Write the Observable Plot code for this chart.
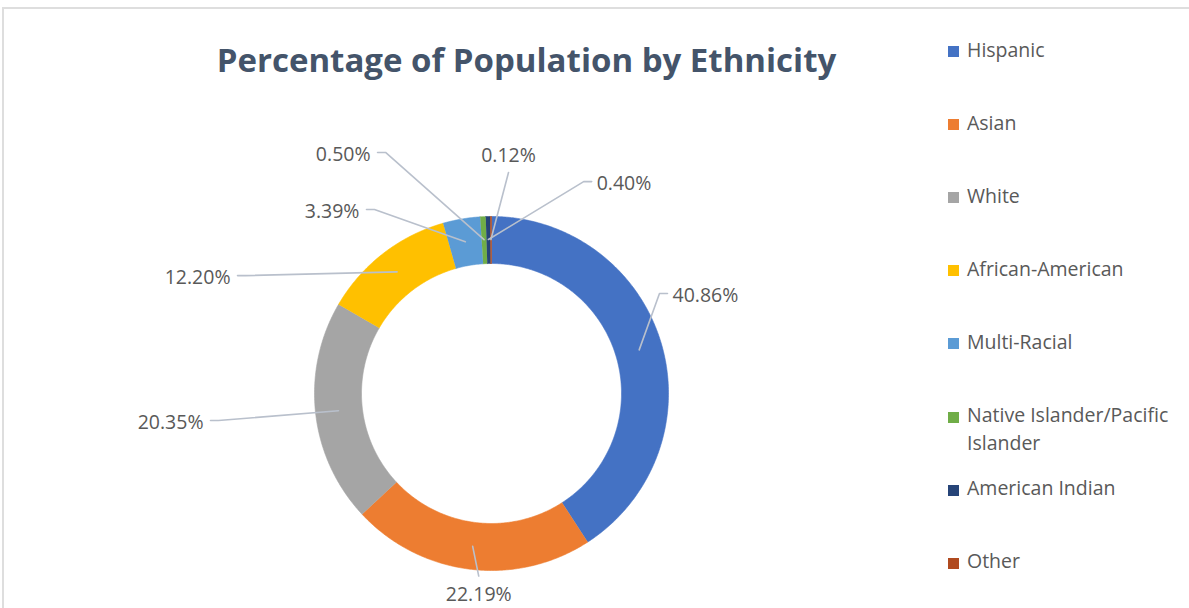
<!DOCTYPE html>
<html>
<head>
<meta charset="utf-8">
<script src="https://cdn.jsdelivr.net/npm/d3@7"></script>
<script src="https://cdn.jsdelivr.net/npm/@observablehq/plot@0.6"></script>
<style>
  body { margin: 0; background: #fff; font-family: "Open Sans", sans-serif; }
  #wrap { position: relative; width: 1189px; height: 608px; overflow: hidden; background: #fff; }
  #frame { position: absolute; left: 2px; top: 7px; width: 1300px; height: 700px;
           border-top: 2px solid #DEDEDE; border-left: 2px solid #DEDEDE; }
  #chart { position: absolute; left: 0; top: 0; }
  #title { position: absolute; left: 0; width: 1053px; top: 43px; text-align: center;
           font-family: "Open Sans", sans-serif; font-weight: 700; font-size: 33px;
           line-height: 33px; color: #44546A; white-space: nowrap; }
  .lg-sw { position: absolute; left: 948px; width: 11px; height: 11px; }
  .lg-tx { position: absolute; left: 967px; width: 215px; font-family: "Open Sans", sans-serif;
           font-size: 19.5px; line-height: 28px; color: #595959; }
</style>
</head>
<body>
<div id="wrap">
  <div id="frame"></div>
  <div id="chart"></div>
  <div id="title">Percentage of Population by Ethnicity</div>
  <div id="legend"></div>
</div>
<script>
// ---------- data ----------
const categories = ["Hispanic", "Asian", "White", "African-American", "Multi-Racial",
                    "Native Islander/Pacific Islander", "American Indian", "Other"];
const percentages = [40.86, 22.19, 20.35, 12.20, 3.39, 0.50, 0.40, 0.12];
const colors = ["#4472C4", "#ED7D31", "#A5A5A5", "#FFC000", "#5B9BD5", "#70AD47", "#264478", "#B04A1F"];

// ---------- layout (not data) ----------
const W = 1189, H = 608;
const CX = 491, CY = 393;          // donut centre in page pixels
const R_IN = 130, R_OUT = 177;      // ring radii
const R_LEAD = 154;                 // leader start radius
// label anchor placement (polar, degrees clockwise from 12 o'clock, px from centre)
const labelAngle  = [60.4, 184.0, 264.5, 294.9, 325.8, 334.7, 25.3, 4.4];
const labelRadius = [202.4, 183.0, 282.3, 280.0, 222.4, 266.6, 234.4, 221.7];

const rad = Math.PI / 180;
const polar = (r, a) => ({x: r * Math.sin(a), y: r * Math.cos(a)});

const arcs = d3.pie().sort(null).value(d => d)(percentages);

// slice outlines
const slicePts = [];
arcs.forEach((a, i) => {
  const n = Math.max(2, Math.ceil((a.endAngle - a.startAngle) / rad * 2));
  for (let k = 0; k <= n; k++) {
    const t = a.startAngle + (a.endAngle - a.startAngle) * k / n;
    slicePts.push({cat: categories[i], ...polar(R_OUT, t)});
  }
  for (let k = n; k >= 0; k--) {
    const t = a.startAngle + (a.endAngle - a.startAngle) * k / n;
    slicePts.push({cat: categories[i], ...polar(R_IN, t)});
  }
});

// labels & leaders
const labelRows = arcs.map((a, i) => {
  const mid = (a.startAngle + a.endAngle) / 2;
  const start = polar(R_LEAD, mid);
  const end = polar(labelRadius[i], labelAngle[i] * rad);
  const deg = labelAngle[i];
  let side;
  if (deg < 10 || deg > 350) side = "above";
  else if (deg > 170 && deg < 190) side = "below";
  else side = Math.sin(deg * rad) > 0 ? "right" : "left";
  const elbow = side === "right" ? {x: end.x - 8, y: end.y}
              : side === "left" ? {x: end.x + 8, y: end.y}
              : end;
  return {cat: categories[i], text: percentages[i].toFixed(2) + "%", side, start, elbow, end};
});
const leaderPts = labelRows.flatMap(d => [
  {cat: d.cat, ...d.start}, {cat: d.cat, ...d.elbow}, {cat: d.cat, ...d.end}
]);
const txt = labelRows.map(d => ({...d, x: d.end.x, y: d.end.y}));

const common = {fontFamily: "Open Sans", fontSize: 19.5, fill: "#595959", text: "text"};

const chart = Plot.plot({
  width: W, height: H,
  marginTop: 0, marginRight: 0, marginBottom: 0, marginLeft: 0,
  x: {domain: [-CX, W - CX], range: [0, W], axis: null},
  y: {domain: [-(H - CY), CY], range: [H, 0], axis: null},
  color: {domain: categories, range: colors},
  style: {background: "transparent", overflow: "visible"},
  marks: [
    Plot.line(slicePts, {x: "x", y: "y", z: "cat", fill: "cat", stroke: "cat", strokeWidth: 0.6, curve: "linear"}),
    Plot.line(leaderPts, {x: "x", y: "y", z: "cat", stroke: "#B9C0CC", strokeWidth: 1.6, curve: "linear"}),
    Plot.text(txt.filter(d => d.side === "left"), {...common, x: d => d.x - 7, y: "y", dy: 2, textAnchor: "end"}),
    Plot.text(txt.filter(d => d.side === "right"), {...common, x: d => d.x + 5, y: "y", dy: 2, textAnchor: "start"}),
    Plot.text(txt.filter(d => d.side === "below"), {...common, x: "x", y: "y", dy: 19, textAnchor: "middle"}),
    Plot.text(txt.filter(d => d.side === "above"), {...common, x: "x", y: "y", dy: -17, textAnchor: "middle"})
  ]
});
document.getElementById("chart").appendChild(chart);

// legend
const legend = document.getElementById("legend");
categories.forEach((c, i) => {
  const sw = document.createElement("div");
  sw.className = "lg-sw";
  sw.style.top = (46 + i * 73.1) + "px";
  sw.style.background = colors[i];
  legend.appendChild(sw);
  const tx = document.createElement("div");
  tx.className = "lg-tx";
  tx.style.top = (35.5 + i * 73.1) + "px";
  tx.textContent = c;
  legend.appendChild(tx);
});
</script>
</body>
</html>
